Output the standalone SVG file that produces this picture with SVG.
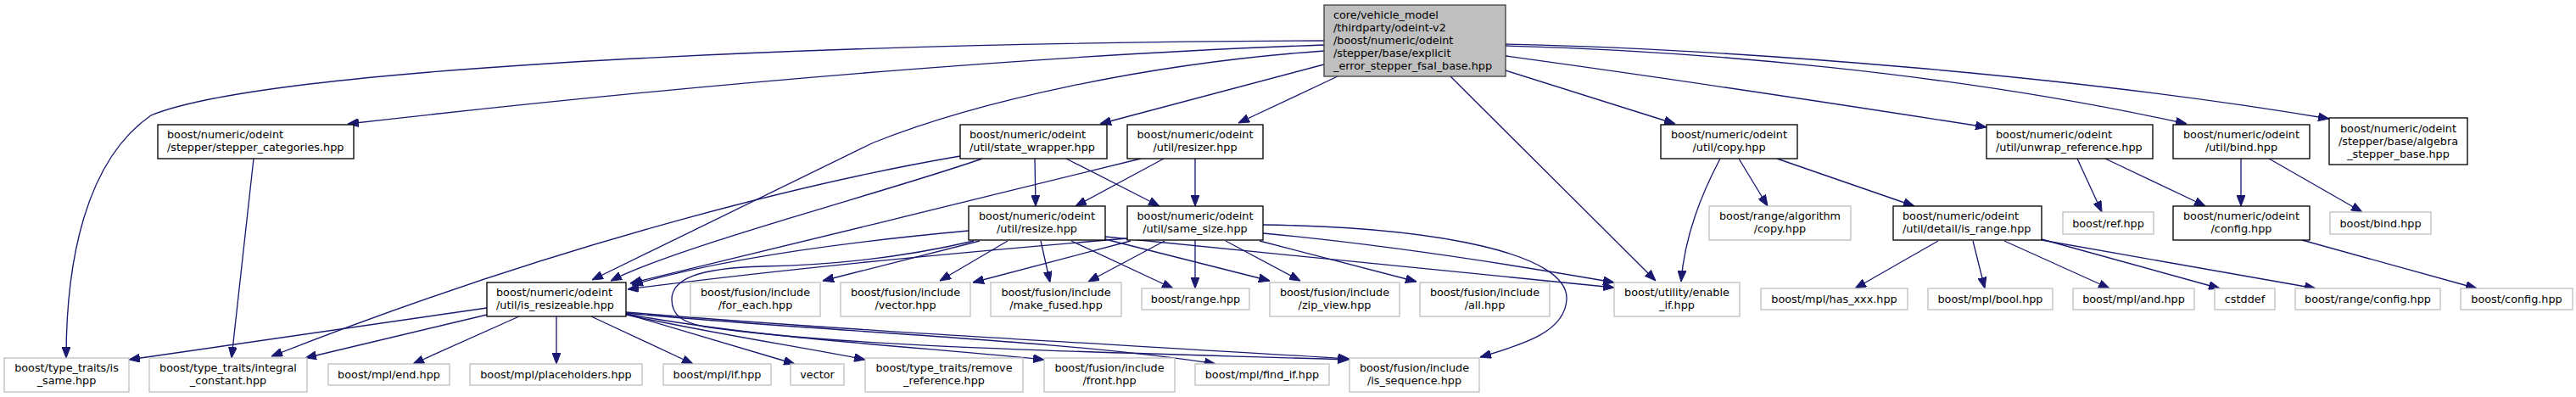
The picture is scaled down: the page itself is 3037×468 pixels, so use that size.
<svg xmlns="http://www.w3.org/2000/svg" width="3037" height="468" viewBox="0 0 3037 468">
<style>
rect{fill:#fff;stroke:#000;stroke-width:1.33}
.g rect{stroke:#c0c0c0}
.m rect{fill:#bfbfbf;stroke:#404040}
text{font-family:"DejaVu Sans","Liberation Sans",sans-serif;font-size:12.8px;fill:#000}
.c text{text-anchor:middle}
#edges path{fill:none;stroke:#191970;stroke-width:1.33;marker-end:url(#ah)}
</style>
<defs>
<marker id="ah" viewBox="0 0 13 10" refX="13" refY="5" markerWidth="13" markerHeight="10" markerUnits="userSpaceOnUse" orient="auto">
<path d="M0,0 L13,5 L0,10 z" fill="#191970" stroke="#191970"/>
</marker>
</defs>
<rect x="0" y="0" width="3037" height="468" style="fill:#fff;stroke:none"/>
<g id="edges">
<path d="M1561,48 C1000,50 320,78 178,136 C100,190 78,310 78,422"/>
<path d="M1561,53 C1300,62 900,90 410,146"/>
<path d="M1561,60 C1350,75 1150,120 1030,168 L698,330"/>
<path d="M1561,76 L1297,146"/>
<path d="M1577,90 L1460,145"/>
<path d="M1710,90 L1952,331"/>
<path d="M1775,83 L1975,146"/>
<path d="M1775,66 C1950,90 2150,120 2342,150"/>
<path d="M1775,54 C2000,60 2300,85 2578,146"/>
<path d="M1775,52 C2050,58 2450,90 2746,140"/>
<path d="M299,187 L273,422"/>
<path d="M1158,187 C1050,225 800,290 720,331"/>
<path d="M1132,184 C950,215 650,290 320,420"/>
<path d="M1220,187 L1221,243"/>
<path d="M1257,187 L1367,243"/>
<path d="M1345,187 C1200,222 900,297 743,334"/>
<path d="M1372,187 L1268,243"/>
<path d="M1409,187 L1409,243"/>
<path d="M2028,187 C2000,240 1985,290 1982,332"/>
<path d="M2050,187 L2084,243"/>
<path d="M2095,187 L2257,243"/>
<path d="M2449,187 L2478,250"/>
<path d="M2482,187 L2600,243"/>
<path d="M2642,187 L2642,243"/>
<path d="M2675,187 L2785,250"/>
<path d="M1142,272 C1000,285 850,305 745,336"/>
<path d="M1155,284 L970,331"/>
<path d="M1148,284 C1080,300 1000,312 900,314 C820,316 792,330 792,353 C792,372 805,380 830,385 C1000,410 1300,415 1590,424"/>
<path d="M1188,284 L1108,331"/>
<path d="M1227,284 L1238,333"/>
<path d="M1263,284 L1383,340"/>
<path d="M1303,282 L1497,331"/>
<path d="M1303,279 C1500,300 1700,318 1903,339"/>
<path d="M1329,281 C1100,300 900,320 740,341"/>
<path d="M1333,284 L1147,333"/>
<path d="M1373,284 L1283,332"/>
<path d="M1409,283 L1409,340"/>
<path d="M1445,284 L1533,331"/>
<path d="M1485,284 L1670,332"/>
<path d="M1489,275 C1650,290 1800,315 1903,333"/>
<path d="M1489,265 C1700,268 1850,300 1847,353 C1845,390 1800,405 1745,421"/>
<path d="M2285,284 L2187,340"/>
<path d="M2326,284 L2340,340"/>
<path d="M2363,284 L2487,340"/>
<path d="M2407,282 L2617,340"/>
<path d="M2407,283 L2730,340"/>
<path d="M2714,283 L2920,340"/>
<path d="M574,363 L152,424"/>
<path d="M574,371 L360,422"/>
<path d="M612,373 L487,429"/>
<path d="M656,373 L656,429"/>
<path d="M697,373 L817,429"/>
<path d="M738,370 L937,429"/>
<path d="M738,371 C850,395 950,410 1020,424"/>
<path d="M738,370 C900,400 1100,410 1231,424"/>
<path d="M738,369 C950,390 1250,400 1433,429"/>
<path d="M738,368 C1000,390 1300,405 1591,423"/>
</g>
<g id="main" class="m"><rect x="1561" y="6" width="214" height="84"/>
<text x="1572" y="21.7">core/vehicle_model</text><text x="1572" y="36.7">/thirdparty/odeint-v2</text><text x="1572" y="51.7">/boost/numeric/odeint</text><text x="1572" y="66.7">/stepper/base/explicit</text><text x="1572" y="81.7">_error_stepper_fsal_base.hpp</text></g>
<g id="stepper_categories"><rect x="186" y="147" width="231" height="40"/><text x="197" y="163.3">boost/numeric/odeint</text><text x="197" y="177.8">/stepper/stepper_categories.hpp</text></g>
<g id="state_wrapper"><rect x="1132" y="147" width="173" height="40"/><text x="1143" y="163.3">boost/numeric/odeint</text><text x="1143" y="177.8">/util/state_wrapper.hpp</text></g>
<g id="resizer" class="c"><rect x="1329" y="147" width="160" height="40"/><text x="1409" y="163.3">boost/numeric/odeint</text><text x="1409" y="177.8">/util/resizer.hpp</text></g>
<g id="copy" class="c"><rect x="1958" y="147" width="161" height="40"/><text x="2038.5" y="163.3">boost/numeric/odeint</text><text x="2038.5" y="177.8">/util/copy.hpp</text></g>
<g id="unwrap_reference"><rect x="2342" y="147" width="196" height="40"/><text x="2353" y="163.3">boost/numeric/odeint</text><text x="2353" y="177.8">/util/unwrap_reference.hpp</text></g>
<g id="bind" class="c"><rect x="2562" y="147" width="161" height="40"/><text x="2642.5" y="163.3">boost/numeric/odeint</text><text x="2642.5" y="177.8">/util/bind.hpp</text></g>
<g id="algebra_stepper_base" class="c"><rect x="2746" y="139" width="163" height="55"/><text x="2827.5" y="155.7">boost/numeric/odeint</text><text x="2827.5" y="170.7">/stepper/base/algebra</text><text x="2827.5" y="185.7">_stepper_base.hpp</text></g>
<g id="resize" class="c"><rect x="1142" y="243" width="161" height="40"/><text x="1222.5" y="259.3">boost/numeric/odeint</text><text x="1222.5" y="273.8">/util/resize.hpp</text></g>
<g id="same_size" class="c"><rect x="1329" y="243" width="160" height="40"/><text x="1409" y="259.3">boost/numeric/odeint</text><text x="1409" y="273.8">/util/same_size.hpp</text></g>
<g id="range_algorithm_copy" class="c g"><rect x="2015" y="243" width="167" height="40"/><text x="2098.5" y="259.3">boost/range/algorithm</text><text x="2098.5" y="273.8">/copy.hpp</text></g>
<g id="is_range"><rect x="2232" y="243" width="175" height="40"/><text x="2243" y="259.3">boost/numeric/odeint</text><text x="2243" y="273.8">/util/detail/is_range.hpp</text></g>
<g id="ref" class="c g"><rect x="2432" y="250" width="107" height="26"/><text x="2485.5" y="267.5">boost/ref.hpp</text></g>
<g id="odeint_config" class="c"><rect x="2562" y="243" width="161" height="40"/><text x="2642.5" y="259.3">boost/numeric/odeint</text><text x="2642.5" y="273.8">/config.hpp</text></g>
<g id="bind_hpp" class="c g"><rect x="2747" y="250" width="119" height="26"/><text x="2806.5" y="267.5">boost/bind.hpp</text></g>
<g id="is_resizeable"><rect x="574" y="333" width="164" height="40"/><text x="585" y="349.3">boost/numeric/odeint</text><text x="585" y="363.8">/util/is_resizeable.hpp</text></g>
<g id="for_each" class="c g"><rect x="814" y="333" width="153" height="40"/><text x="890.5" y="349.3">boost/fusion/include</text><text x="890.5" y="363.8">/for_each.hpp</text></g>
<g id="fusion_vector" class="c g"><rect x="991" y="333" width="153" height="40"/><text x="1067.5" y="349.3">boost/fusion/include</text><text x="1067.5" y="363.8">/vector.hpp</text></g>
<g id="make_fused" class="c g"><rect x="1168" y="333" width="154" height="40"/><text x="1245" y="349.3">boost/fusion/include</text><text x="1245" y="363.8">/make_fused.hpp</text></g>
<g id="range" class="c g"><rect x="1346" y="340" width="127" height="25"/><text x="1409.5" y="357">boost/range.hpp</text></g>
<g id="zip_view" class="c g"><rect x="1497" y="333" width="153" height="40"/><text x="1573.5" y="349.3">boost/fusion/include</text><text x="1573.5" y="363.8">/zip_view.hpp</text></g>
<g id="all" class="c g"><rect x="1674" y="333" width="153" height="40"/><text x="1750.5" y="349.3">boost/fusion/include</text><text x="1750.5" y="363.8">/all.hpp</text></g>
<g id="enable_if" class="c g"><rect x="1903" y="333" width="148" height="40"/><text x="1977" y="349.3">boost/utility/enable</text><text x="1977" y="363.8">_if.hpp</text></g>
<g id="has_xxx" class="c g"><rect x="2076" y="340" width="173" height="25"/><text x="2162.5" y="357">boost/mpl/has_xxx.hpp</text></g>
<g id="mpl_bool" class="c g"><rect x="2273" y="340" width="147" height="25"/><text x="2346.5" y="357">boost/mpl/bool.hpp</text></g>
<g id="mpl_and" class="c g"><rect x="2444" y="340" width="143" height="25"/><text x="2515.5" y="357">boost/mpl/and.hpp</text></g>
<g id="cstddef" class="c g"><rect x="2611" y="340" width="71" height="25"/><text x="2646.5" y="357">cstddef</text></g>
<g id="range_config" class="c g"><rect x="2706" y="340" width="171" height="25"/><text x="2791.5" y="357">boost/range/config.hpp</text></g>
<g id="boost_config" class="c g"><rect x="2901" y="340" width="132" height="25"/><text x="2967" y="357">boost/config.hpp</text></g>
<g id="is_same" class="c g"><rect x="5" y="422" width="147" height="40"/><text x="78.5" y="438.3">boost/type_traits/is</text><text x="78.5" y="452.8">_same.hpp</text></g>
<g id="integral_constant" class="c g"><rect x="176" y="422" width="186" height="40"/><text x="269" y="438.3">boost/type_traits/integral</text><text x="269" y="452.8">_constant.hpp</text></g>
<g id="mpl_end" class="c g"><rect x="387" y="429" width="143" height="25"/><text x="458.5" y="446">boost/mpl/end.hpp</text></g>
<g id="placeholders" class="c g"><rect x="554" y="429" width="203" height="25"/><text x="655.5" y="446">boost/mpl/placeholders.hpp</text></g>
<g id="mpl_if" class="c g"><rect x="782" y="429" width="127" height="25"/><text x="845.5" y="446">boost/mpl/if.hpp</text></g>
<g id="vector" class="c g"><rect x="932" y="429" width="63" height="25"/><text x="963.5" y="446">vector</text></g>
<g id="remove_reference" class="c g"><rect x="1020" y="422" width="186" height="40"/><text x="1113" y="438.3">boost/type_traits/remove</text><text x="1113" y="452.8">_reference.hpp</text></g>
<g id="front" class="c g"><rect x="1231" y="422" width="154" height="40"/><text x="1308" y="438.3">boost/fusion/include</text><text x="1308" y="452.8">/front.hpp</text></g>
<g id="find_if" class="c g"><rect x="1409" y="429" width="158" height="25"/><text x="1488" y="446">boost/mpl/find_if.hpp</text></g>
<g id="is_sequence" class="c g"><rect x="1591" y="422" width="153" height="40"/><text x="1667.5" y="438.3">boost/fusion/include</text><text x="1667.5" y="452.8">/is_sequence.hpp</text></g>
</svg>
